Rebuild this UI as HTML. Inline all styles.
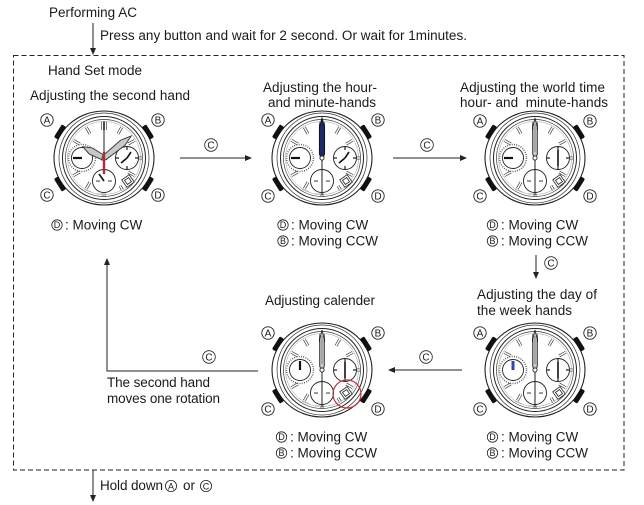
<!DOCTYPE html>
<html><head><meta charset="utf-8">
<style>
html,body{margin:0;padding:0;background:#fff;}
svg{display:block;}
text{font-family:"Liberation Sans",Arial,sans-serif;fill:#1a1a1a;font-size:13.5px;}
.cl{font-size:9px;}
.cw{font-size:10px;}
</style></head><body>
<svg width="644" height="505" viewBox="0 0 644 505" xmlns="http://www.w3.org/2000/svg">
<defs>
<g id="w">
  <ellipse rx="50" ry="47" fill="#fff" stroke="#222" stroke-width="1.1"/>
  <circle r="45" fill="none" stroke="#333" stroke-width="0.7"/>
  <circle r="41.5" fill="none" stroke="#222" stroke-width="1"/>
  <circle r="38.5" fill="none" stroke="#333" stroke-width="0.7"/>
  <circle r="36.5" fill="none" stroke="#999" stroke-width="0.5"/>
  <g fill="#111">
    <rect x="-2.5" y="-7.5" width="5" height="15" rx="1.5" transform="translate(-44,-26) rotate(32)"/>
    <rect x="-2.5" y="-7.5" width="5" height="15" rx="1.5" transform="translate(-44,26) rotate(-32)"/>
    <rect x="-2.5" y="-7.5" width="5" height="15" rx="1.5" transform="translate(44,-26) rotate(-32)"/>
    <rect x="-2.5" y="-7.5" width="5" height="15" rx="1.5" transform="translate(44,26) rotate(32)"/>
  </g>
  <path d="M-1.6,-28V-36M1.6,-28V-36M14,-24.2L17.7,-30.7M24.2,-14L30.7,-17.7M24.2,14L30.7,17.7M16,27.7L18.5,32M0,35.5V38M-14,24.2L-17.7,30.7M-24.2,14L-30.7,17.7M-24.2,-14L-30.7,-17.7M-14,-24.2L-17.7,-30.7M35,0H38" stroke="#333" stroke-width="2.8" fill="none"/>
  <path d="M-1.6,-28V-36M1.6,-28V-36M14,-24.2L17.7,-30.7M24.2,-14L30.7,-17.7M24.2,14L30.7,17.7M16,27.7L18.5,32M0,35.5V38M-14,24.2L-17.7,30.7M-24.2,14L-30.7,17.7M-24.2,-14L-30.7,-17.7M-14,-24.2L-17.7,-30.7M35,0H38" stroke="#fff" stroke-width="1.5" fill="none"/>
  <circle cx="-22" cy="0" r="13.5" fill="none" stroke="#555" stroke-width="1.5" stroke-dasharray="0.9 1.4"/>
  <circle cx="-22" cy="0" r="10.5" fill="#fff" stroke="#222" stroke-width="0.9"/>
  <circle cx="23" cy="0" r="11.5" fill="#fff" stroke="#222" stroke-width="0.9"/>
  <path d="M23,-11.5V-8M23,8V11.5M11.5,0H15M31,0H34.5" stroke="#222" stroke-width="1.2"/>
  <circle cx="0" cy="23" r="11.5" fill="#fff" stroke="#222" stroke-width="0.9"/>
  <circle cx="-7" cy="23" r="0.8" fill="#222"/><circle cx="-5" cy="23" r="0.8" fill="#222"/>
  <circle cx="7" cy="23" r="0.8" fill="#222"/><circle cx="5" cy="23" r="0.8" fill="#222"/>
  <g transform="translate(24,23) rotate(-35)" fill="#fff" stroke="#222" stroke-width="0.8">
    <rect x="-4.5" y="-4.5" width="9" height="9"/><rect x="-2.5" y="-2.5" width="5" height="5"/>
  </g>
  <path d="M-20,31L-13,34M-7,36L1,36" stroke="#aaa" stroke-width="1"/>
</g>
<g id="hv">
  <line x1="0" y1="0" x2="0" y2="37" stroke="#222" stroke-width="1"/>
  <polygon points="0,-40 2.3,-31 2.3,-4 0,3 -2.3,-4 -2.3,-31" fill="#c8c8c8" stroke="#222" stroke-width="0.9"/>
  <line x1="0" y1="-34" x2="0" y2="-6" stroke="#555" stroke-width="0.6"/>
  <circle r="2.1" fill="#fff" stroke="#222" stroke-width="0.9"/>
</g>
<g id="hb">
  <line x1="0" y1="0" x2="0" y2="37" stroke="#222" stroke-width="1"/>
  <polygon points="0,-40 2.6,-31 2.6,-4 0,3 -2.6,-4 -2.6,-31" fill="#1c2a66" stroke="#111" stroke-width="0.9"/>
  <circle r="2.1" fill="#fff" stroke="#222" stroke-width="0.9"/>
</g>
</defs>

<!-- dashed frame -->
<rect x="13.5" y="55.5" width="610.5" height="414.5" fill="none" stroke="#222" stroke-width="1" stroke-dasharray="5 3"/>

<!-- top texts & arrow -->
<text x="49" y="17" textLength="88">Performing AC</text>
<line x1="93" y1="23" x2="93" y2="49" stroke="#222" stroke-width="1"/>
<polygon points="90,48 96,48 93,55" fill="#222"/>
<text x="100" y="40" textLength="367">Press any button and wait for 2 second. Or wait for 1minutes.</text>
<text x="48" y="75" textLength="94">Hand Set mode</text>

<!-- titles -->
<text x="30" y="100" textLength="160">Adjusting the second hand</text>
<text x="263" y="92" textLength="114">Adjusting the hour-</text>
<text x="268" y="107" textLength="108">and minute-hands</text>
<text x="460" y="92" textLength="145">Adjusting the world time</text>
<text x="460" y="107" textLength="148">hour- and&#160; minute-hands</text>
<text x="265" y="305" textLength="110">Adjusting calender</text>
<text x="477" y="299" textLength="120">Adjusting the day of</text>
<text x="477" y="315" textLength="95">the week hands</text>

<!-- watches -->
<use href="#w" x="104" y="158"/>
<use href="#w" x="322" y="158"/>
<use href="#w" x="535" y="158"/>
<use href="#w" x="322" y="370"/>
<use href="#w" x="535" y="370"/>

<!-- W1 hands -->
<g transform="translate(104,158)">
  <line x1="-22" y1="0" x2="-31" y2="0" stroke="#111" stroke-width="2.2"/>
  <line x1="23" y1="0" x2="17" y2="5" stroke="#111" stroke-width="1.6"/>
  <line x1="23" y1="0" x2="27" y2="-6" stroke="#111" stroke-width="1.6"/>
  <line x1="0" y1="23" x2="-5" y2="16" stroke="#111" stroke-width="1.6"/>
  <polygon points="0,-24 3.4,-15 2.4,0 0,3 -2.4,0 -3.4,-15" fill="#c8c8c8" stroke="#333" stroke-width="0.9" transform="rotate(-62)"/>
  <polygon points="0,-35 3.4,-24 2.4,0 0,3 -2.4,0 -3.4,-24" fill="#c8c8c8" stroke="#333" stroke-width="0.9" transform="rotate(51)"/>
  <line x1="0" y1="-37" x2="0" y2="0" stroke="#222" stroke-width="1"/>
  <line x1="0" y1="-6" x2="0" y2="16" stroke="#b02a3a" stroke-width="2.4"/>
</g>
<!-- W2 hands -->
<g transform="translate(322,158)">
  <line x1="-22" y1="0" x2="-31" y2="0" stroke="#111" stroke-width="2.2"/>
  <line x1="23" y1="0" x2="17" y2="5" stroke="#111" stroke-width="1.6"/>
  <line x1="23" y1="0" x2="27" y2="-6" stroke="#111" stroke-width="1.6"/>
  <use href="#hb"/>
</g>
<!-- W3 hands -->
<g transform="translate(535,158)">
  <line x1="-22" y1="0" x2="-31" y2="0" stroke="#111" stroke-width="2.2"/>
  <line x1="23" y1="-8" x2="23" y2="8" stroke="#111" stroke-width="1.6"/>
  <use href="#hv"/>
</g>
<!-- W4 hands -->
<g transform="translate(322,370)">
  <line x1="-22" y1="0" x2="-22" y2="-9" stroke="#111" stroke-width="2.2"/>
  <line x1="23" y1="-8" x2="23" y2="8" stroke="#111" stroke-width="1.6"/>
  <use href="#hv"/>
  <circle cx="25" cy="24" r="14" fill="none" stroke="#c03040" stroke-width="1.2"/>
</g>
<!-- W5 hands -->
<g transform="translate(535,370)">
  <line x1="-22" y1="0" x2="-22" y2="-9" stroke="#2b4aa0" stroke-width="3"/>
  <line x1="23" y1="-8" x2="23" y2="8" stroke="#111" stroke-width="1.6"/>
  <use href="#hv"/>
</g>

<!-- circled letters at watches -->
<g fill="#fff" stroke="#222" stroke-width="0.9">
  <circle cx="47" cy="120" r="6.2"/><circle cx="158" cy="120" r="6.2"/><circle cx="47" cy="195" r="6.2"/><circle cx="158" cy="195" r="6.2"/>
  <circle cx="268" cy="120" r="6.2"/><circle cx="378" cy="120" r="6.2"/><circle cx="268" cy="196" r="6.2"/><circle cx="378" cy="196" r="6.2"/>
  <circle cx="480" cy="121" r="6.2"/><circle cx="590" cy="121" r="6.2"/><circle cx="480" cy="196" r="6.2"/><circle cx="590" cy="196" r="6.2"/>
  <circle cx="268" cy="333" r="6.2"/><circle cx="378" cy="333" r="6.2"/><circle cx="268" cy="409" r="6.2"/><circle cx="378" cy="409" r="6.2"/>
  <circle cx="480" cy="333" r="6.2"/><circle cx="590" cy="333" r="6.2"/><circle cx="480" cy="409" r="6.2"/><circle cx="590" cy="409" r="6.2"/>
</g>
<g text-anchor="middle">
  <text class="cw" x="47" y="123.5">A</text><text class="cw" x="158" y="123.5">B</text><text class="cw" x="47" y="198.5">C</text><text class="cw" x="158" y="198.5">D</text>
  <text class="cw" x="268" y="123.5">A</text><text class="cw" x="378" y="123.5">B</text><text class="cw" x="268" y="199.5">C</text><text class="cw" x="378" y="199.5">D</text>
  <text class="cw" x="480" y="124.5">A</text><text class="cw" x="590" y="124.5">B</text><text class="cw" x="480" y="199.5">C</text><text class="cw" x="590" y="199.5">D</text>
  <text class="cw" x="268" y="336.5">A</text><text class="cw" x="378" y="336.5">B</text><text class="cw" x="268" y="412.5">C</text><text class="cw" x="378" y="412.5">D</text>
  <text class="cw" x="480" y="336.5">A</text><text class="cw" x="590" y="336.5">B</text><text class="cw" x="480" y="412.5">C</text><text class="cw" x="590" y="412.5">D</text>
</g>

<!-- label circles -->
<g fill="none" stroke="#222" stroke-width="0.8">
  <circle cx="57" cy="225" r="5.2"/>
  <circle cx="283" cy="225" r="5.2"/><circle cx="283" cy="241" r="5.2"/>
  <circle cx="492.5" cy="225" r="5.2"/><circle cx="492.5" cy="241" r="5.2"/>
  <circle cx="281.5" cy="437" r="5.2"/><circle cx="281.5" cy="453" r="5.2"/>
  <circle cx="492.5" cy="437" r="5.2"/><circle cx="492.5" cy="453" r="5.2"/>
  <circle cx="171" cy="486" r="5.6"/><circle cx="206" cy="486" r="5.6"/>
  <circle cx="211" cy="145" r="6.3"/><circle cx="427" cy="145" r="6.3"/>
  <circle cx="551" cy="263" r="6.3"/><circle cx="426" cy="357" r="6.3"/><circle cx="209" cy="357" r="6.3"/>
</g>
<g text-anchor="middle">
  <text class="cl" x="57" y="228.2">D</text>
  <text class="cl" x="283" y="228.2">D</text><text class="cl" x="283" y="244.2">B</text>
  <text class="cl" x="492.5" y="228.2">D</text><text class="cl" x="492.5" y="244.2">B</text>
  <text class="cl" x="281.5" y="440.2">D</text><text class="cl" x="281.5" y="456.2">B</text>
  <text class="cl" x="492.5" y="440.2">D</text><text class="cl" x="492.5" y="456.2">B</text>
  <text class="cl" x="171" y="489.3">A</text><text class="cl" x="206" y="489.3">C</text>
  <text class="cw" x="211" y="148.5">C</text><text class="cw" x="427" y="148.5">C</text>
  <text class="cw" x="551" y="266.5">C</text><text class="cw" x="426" y="360.5">C</text><text class="cw" x="209" y="360.5">C</text>
</g>

<!-- label texts -->
<text x="65" y="229.5">: Moving CW</text>
<text x="291" y="229.5">: Moving CW</text>
<text x="291" y="245.5">: Moving CCW</text>
<text x="501" y="229.5">: Moving CW</text>
<text x="501" y="245.5">: Moving CCW</text>
<text x="290" y="441.5">: Moving CW</text>
<text x="290" y="457.5">: Moving CCW</text>
<text x="501" y="441.5">: Moving CW</text>
<text x="501" y="457.5">: Moving CCW</text>

<!-- arrows -->
<g stroke="#222" stroke-width="1" fill="none">
  <line x1="180" y1="158" x2="246" y2="158"/>
  <line x1="393" y1="158" x2="461" y2="158"/>
  <line x1="536" y1="255" x2="536" y2="273"/>
  <line x1="462" y1="370" x2="394" y2="370"/>
  <polyline points="258,371 107,371 107,264"/>
  <line x1="93" y1="470" x2="93" y2="496"/>
</g>
<g fill="#222">
  <polygon points="245,155 245,161 252,158"/>
  <polygon points="460,155 460,161 467,158"/>
  <polygon points="533,272 539,272 536,279"/>
  <polygon points="395,367 395,373 388,370"/>
  <polygon points="104,265 110,265 107,258"/>
  <polygon points="90,495 96,495 93,502"/>
</g>

<text x="107" y="387" textLength="103">The second hand</text>
<text x="107" y="403" textLength="113">moves one rotation</text>
<text x="100" y="490" textLength="63">Hold down</text>
<text x="183" y="490">or</text>
</svg>
</body></html>
